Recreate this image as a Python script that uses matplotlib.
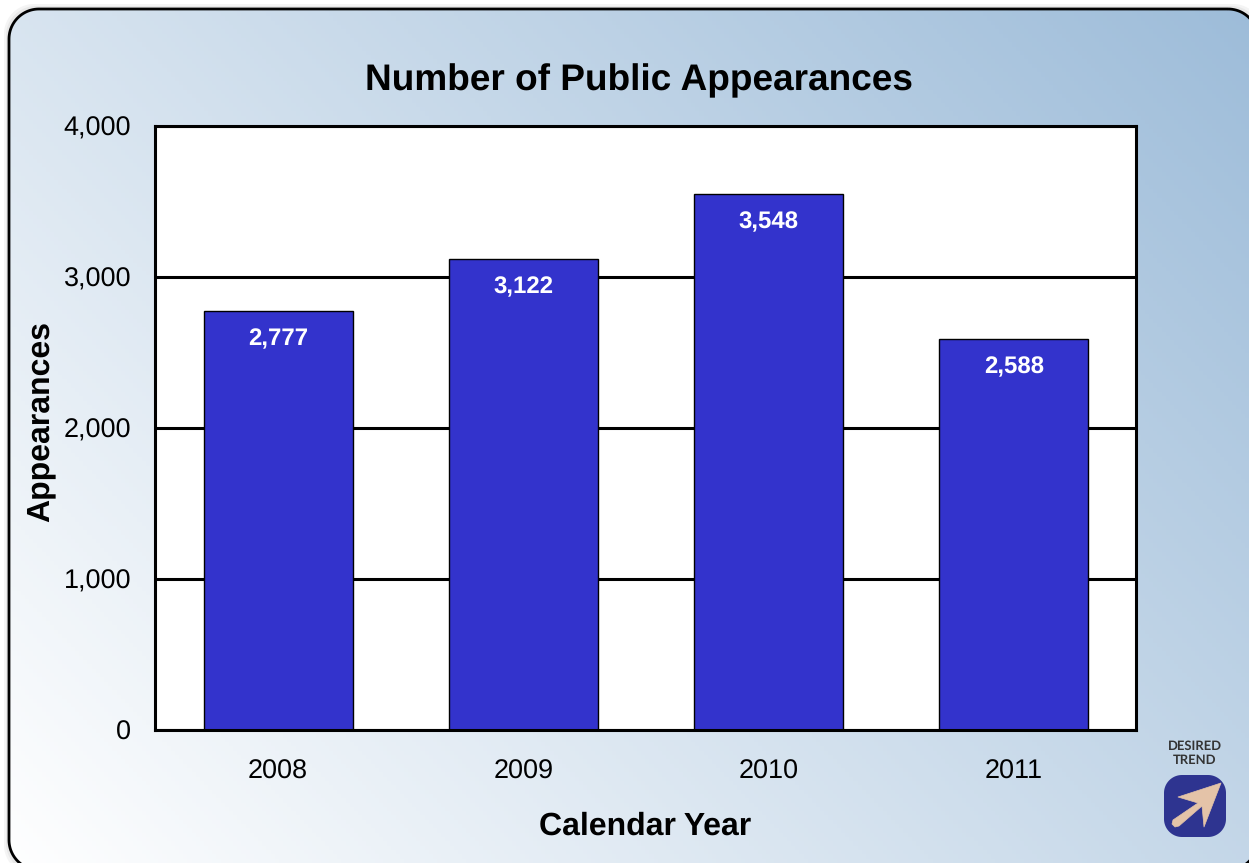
import matplotlib
matplotlib.use("Agg")
import matplotlib.pyplot as plt
import numpy as np
from matplotlib.patches import Polygon

plt.rcParams["font.family"] = ["Liberation Sans", "DejaVu Sans"]
plt.rcParams["text.hinting"] = "no_hinting"
plt.rcParams["text.hinting_factor"] = 1

years = ["2008", "2009", "2010", "2011"]
appearances = [2777, 3122, 3548, 2588]
yticks = [0, 1000, 2000, 3000, 4000]

W, H = 1249, 863


def round_rect(x0, y0, x1, y1, r):
    # rounded box outline as a plain polyline
    pts = []
    a = np.linspace(0, np.pi / 2, 24)
    for cx, cy, off in [(x1 - r, y0 + r, -np.pi / 2), (x1 - r, y1 - r, 0),
                        (x0 + r, y1 - r, np.pi / 2), (x0 + r, y0 + r, np.pi)]:
        pts += list(zip(cx + r * np.cos(a + off), cy + r * np.sin(a + off)))
    return np.array(pts)


fig = plt.figure(figsize=(W / 100, H / 100), dpi=100)

# background layer in pixel coords (y down)
bg = fig.add_axes([0, 0, 1, 1])
bg.axis("off")

# soft shadow round the panel
for grow, col in [(5, "#f4f4f4"), (3, "#e8e8e8")]:
    bg.add_patch(Polygon(round_rect(9 - grow, 9 - grow, 1258 + grow, 870 + grow, 30), fc=col, ec="none", zorder=0))

# panel gradient, white at bottom left, blue at top right
xx, yy = np.meshgrid(np.linspace(0, 1, 300), np.linspace(0, 1, 200))
t = 0.6 * xx + 0.4 * yy
start = np.array([255, 255, 255]) / 255
end = np.array([157, 188, 217]) / 255
img = start + (end - start) * t[..., None]
im = bg.imshow(img, origin="lower", extent=[0, W, H, 0], aspect="auto", zorder=1)
bg.set_xlim(0, W)
bg.set_ylim(H, 0)

panel = Polygon(round_rect(9, 9, 1258, 870, 30), fc="none", ec="black", lw=2, zorder=2)
bg.add_patch(panel)
im.set_clip_path(panel)

bg.text(639, 81, "Number of Public Appearances", ha="center", va="center",
        fontsize=26.95, fontweight="bold", color="black", zorder=3)
bg.text(645.5, 826, "Calendar Year", ha="center", va="center",
        fontsize=22.9, fontweight="bold", color="black", zorder=3)
bg.text(40, 422, "Appearances", ha="center", va="center", rotation=90,
        fontsize=23, fontweight="bold", color="black", zorder=3)

# desired trend badge
bg.text(1195, 753, "DESIRED\nTREND", ha="center", va="center", fontsize=9, fontweight="bold",
        family=["Lato", "DejaVu Sans"], color="#333333", linespacing=1.2, zorder=3)
bg.add_patch(Polygon(round_rect(1164, 775, 1226, 837, 18), fc="#2e3490", ec="none", zorder=3))
bg.add_patch(Polygon([(1221, 783), (1178, 797), (1198, 803), (1173, 820), (1172, 824), (1175, 827), (1179, 826),
                      (1202, 806), (1204, 827)], closed=True, fc="#e4c3a8", ec="#e4c3a8", lw=0.5,
                     joinstyle="round", zorder=4))

# chart
ax = fig.add_axes([155 / W, 1 - 730 / H, (1136 - 155) / W, (730 - 126) / H])
ax.set_facecolor("white")
x = np.arange(len(years))
ax.bar(x, appearances, width=0.607, color="#3333cc", edgecolor="black", linewidth=1, zorder=3)
ax.set_xlim(-0.502, 3.498)
ax.set_ylim(0, 4000)
ax.set_xticks(x, years)
ax.set_yticks(yticks, [f"{v:,}" for v in yticks])
ax.tick_params(length=0, labelsize=19.6, colors="black")
ax.tick_params(axis="x", pad=21)
ax.tick_params(axis="y", pad=17)
ax.grid(axis="y", color="black", lw=2.2, zorder=1)
ax.set_axisbelow(True)
for s in ax.spines.values():
    s.set_linewidth(2.2)
    s.set_color("black")
    s.set_zorder(5)

for xi, v in zip(x, appearances):
    ax.annotate(f"{v:,}", (xi, v), xytext=(0, -20.2), textcoords="offset points", ha="center", va="center",
                color="white", fontsize=17.4, fontweight="bold", zorder=4)

fig.savefig("out.png", dpi=100)
